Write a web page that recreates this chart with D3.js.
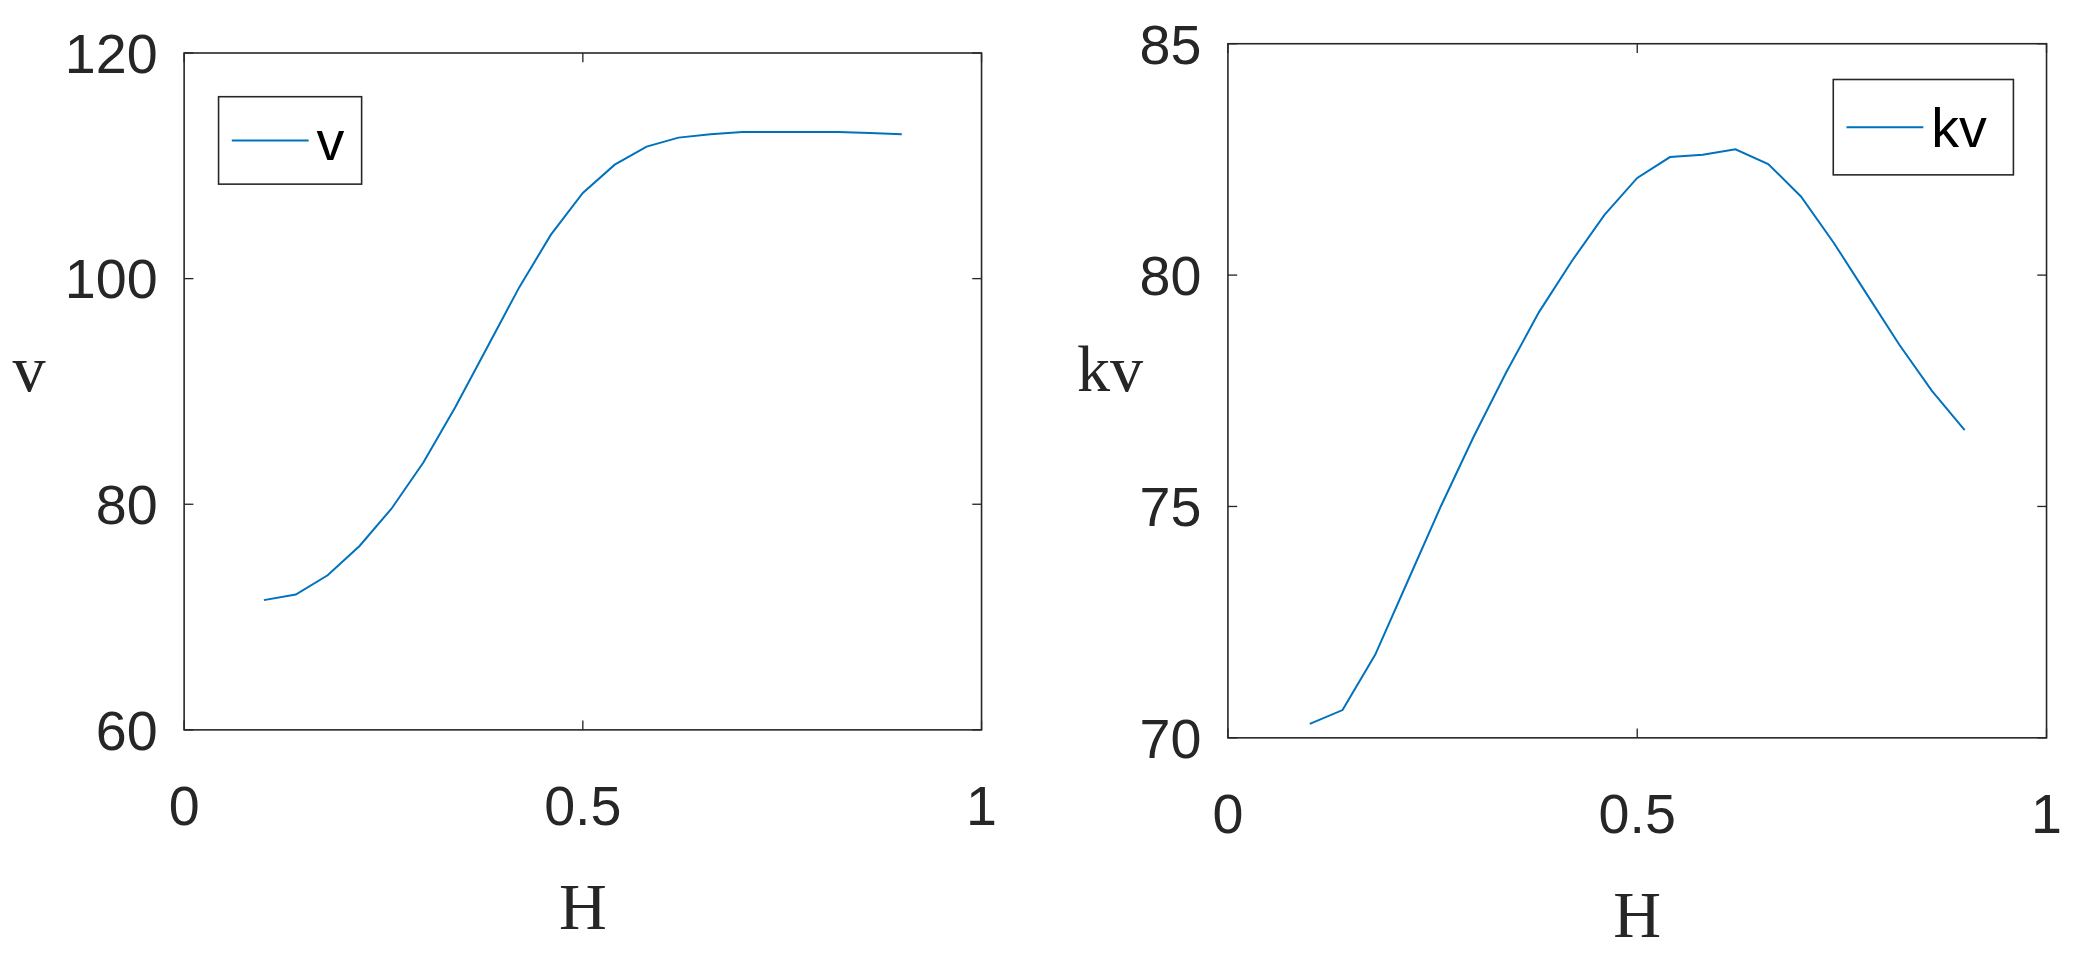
<!DOCTYPE html>
<html><head><meta charset="utf-8">
<script src="https://cdn.jsdelivr.net/npm/d3@7"></script>
<style>body{margin:0;background:#fff}</style>
</head><body><div id="chart"></div>
<script>
const H = [0.10,0.14,0.18,0.22,0.26,0.30,0.34,0.38,0.42,0.46,0.50,0.54,0.58,0.62,0.66,0.70,0.74,0.78,0.82,0.86,0.90];
const v = [71.5,72.0,73.7,76.3,79.6,83.7,88.6,93.9,99.2,103.9,107.6,110.1,111.7,112.5,112.8,113.0,113.0,113.0,113.0,112.9,112.8];
const kv = [70.3,70.6,71.8,73.4,75.0,76.5,77.9,79.2,80.3,81.3,82.1,82.55,82.6,82.72,82.4,81.7,80.7,79.6,78.5,77.5,76.65];
const xTicks = [0,0.5,1];
const vTicks = [60,80,100,120];
const kvTicks = [70,75,80,85];

const svg = d3.select("#chart").append("svg")
  .attr("width",2077).attr("height",967)
  .attr("viewBox","0 0 1568 730");

const panel = (box, yDom, yT, vals, name, legendBox) => {
  const x = d3.scaleLinear().domain([0,1]).range([box.l, box.r]);
  const y = d3.scaleLinear().domain(yDom).range([box.b, box.t]);
  const g = svg.append("g");
  g.append("rect").attr("x",box.l).attr("y",box.t)
    .attr("width",box.r-box.l).attr("height",box.b-box.t)
    .attr("fill","none").attr("stroke","#262626").attr("stroke-width",1.2);
  // ticks inward on all sides
  xTicks.forEach(t => {
    g.append("line").attr("x1",x(t)).attr("x2",x(t)).attr("y1",box.b).attr("y2",box.b-7).attr("stroke","#262626");
    g.append("line").attr("x1",x(t)).attr("x2",x(t)).attr("y1",box.t).attr("y2",box.t+7).attr("stroke","#262626");
    g.append("text").attr("x",x(t)).attr("y",box.b+72).attr("text-anchor","middle")
      .attr("font-family","Liberation Sans, Arial").attr("font-size",42).attr("fill","#262626").text(t);
  });
  yT.forEach(t => {
    g.append("line").attr("x1",box.l).attr("x2",box.l+7).attr("y1",y(t)).attr("y2",y(t)).attr("stroke","#262626");
    g.append("line").attr("x1",box.r).attr("x2",box.r-7).attr("y1",y(t)).attr("y2",y(t)).attr("stroke","#262626");
    g.append("text").attr("x",box.l-20).attr("y",y(t)+15).attr("text-anchor","end")
      .attr("font-family","Liberation Sans, Arial").attr("font-size",42).attr("fill","#262626").text(t);
  });
  g.append("path").datum(vals)
    .attr("d", d3.line().x((d,i)=>x(H[i])).y(d=>y(d)))
    .attr("fill","none").attr("stroke","#0072BD").attr("stroke-width",1.5);
  g.append("text").attr("x",(box.l+box.r)/2).attr("y",box.b+150).attr("text-anchor","middle")
    .attr("font-family","Liberation Serif, Times New Roman").attr("font-size",50).attr("fill","#262626").text("H");
  g.append("text").attr("x",box.yl).attr("y",(box.t+box.b)/2+0).attr("text-anchor","middle")
    .attr("font-family","Liberation Serif, Times New Roman").attr("font-size",50).attr("fill","#262626").text(name);
  const lb = legendBox;
  g.append("rect").attr("x",lb.x).attr("y",lb.y).attr("width",lb.w).attr("height",lb.h)
    .attr("fill","#fff").attr("stroke","#262626").attr("stroke-width",1.2);
  g.append("line").attr("x1",lb.x+10).attr("x2",lb.x+68).attr("y1",lb.y+lb.h/2).attr("y2",lb.y+lb.h/2)
    .attr("stroke","#0072BD").attr("stroke-width",1.5);
  g.append("text").attr("x",lb.x+74).attr("y",lb.y+lb.h/2+15).attr("font-family","Liberation Sans, Arial")
    .attr("font-size",42).attr("fill","#000").text(name);
};

panel({l:139,r:741,t:40,b:551,yl:22}, [60,120], vTicks, v, "v", {x:165,y:73,w:108,h:66});
panel({l:927,r:1545,t:33,b:557,yl:838}, [70,85], kvTicks, kv, "kv", {x:1384,y:60,w:136,h:72});
</script></body></html>
